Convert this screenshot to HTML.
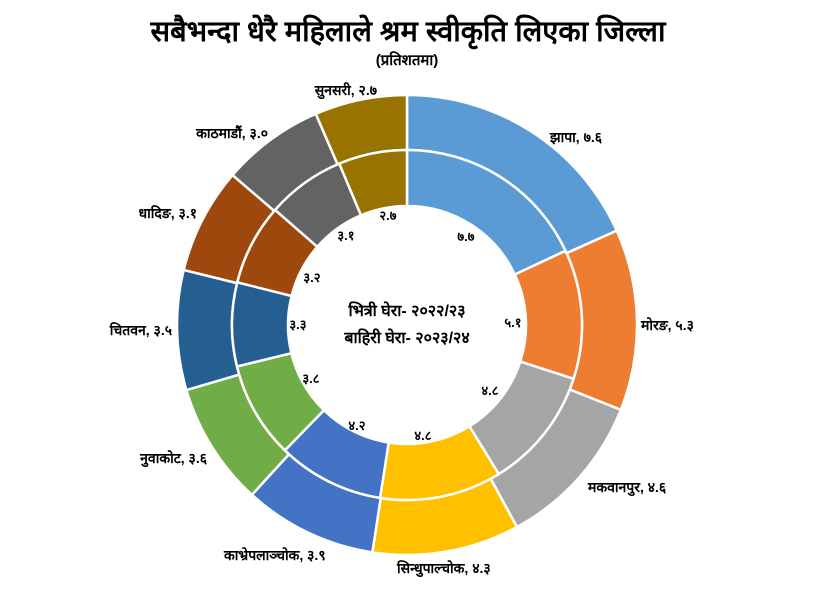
<!DOCTYPE html>
<html><head><meta charset="utf-8">
<style>
html,body{margin:0;padding:0;background:#fff;}
svg{display:block;font-family:"Liberation Sans","Noto Sans CJK SC",sans-serif;font-weight:bold;}
</style></head>
<body>
<svg id="c" width="815" height="612" viewBox="0 0 815 612" xmlns="http://www.w3.org/2000/svg">
<text x="408" y="41" text-anchor="middle" font-size="29" fill="#000">सबैभन्दा धेरै महिलाले श्रम स्वीकृति लिएका जिल्ला</text>
<text x="407" y="65" text-anchor="middle" font-size="15" fill="#000">(प्रतिशतमा)</text>
<g id="rings"></g>
<g font-size="14" fill="#000">
<text x="550" y="142">झापा, ७.६</text>
<text x="641" y="330">मोरङ, ५.३</text>
<text x="588" y="492">मकवानपुर, ४.६</text>
<text x="397" y="573">सिन्धुपाल्चोक, ४.३</text>
<text x="224" y="560">काभ्रेपलाञ्चोक, ३.९</text>
<text x="207" y="463" text-anchor="end">नुवाकोट, ३.६</text>
<text x="172" y="335" text-anchor="end">चितवन, ३.५</text>
<text x="197" y="218" text-anchor="end">धादिङ, ३.१</text>
<text x="268" y="138" text-anchor="end">काठमाडौं, ३.०</text>
<text x="377" y="95" text-anchor="end">सुनसरी, २.७</text>
</g>
<g font-size="13" fill="#000" text-anchor="middle">
<text x="466" y="241">७.७</text>
<text x="513" y="327">५.१</text>
<text x="490" y="395">४.८</text>
<text x="423" y="440">४.८</text>
<text x="357" y="430">४.२</text>
<text x="311" y="383">३.८</text>
<text x="298" y="329">३.३</text>
<text x="312" y="282">३.२</text>
<text x="346" y="240">३.१</text>
<text x="388" y="220">२.७</text>
</g>
<g font-size="16" fill="#000" text-anchor="middle">
<text x="407" y="316">भित्री घेरा- २०२२/२३</text>
<text x="407" y="343">बाहिरी घेरा- २०२३/२४</text>
</g>
</svg>
<script>
(function(){
var cx=407,cy=325;
var cols=["#5B9BD5","#ED7D31","#A5A5A5","#FFC000","#4472C4","#70AD47","#255E91","#9E480E","#636363","#997300"];
var outer=[7.6,5.3,4.6,4.3,3.9,3.6,3.5,3.1,3.0,2.7];
var inner=[7.7,5.1,4.8,4.8,4.2,3.8,3.3,3.2,3.1,2.7];
var g=document.getElementById("rings");
function pt(r,a){return [cx+r*Math.sin(a),cy-r*Math.cos(a)];}
function ring(data,r0,r1){
 var s=data.reduce(function(a,b){return a+b;},0),a=0,h="";
 data.forEach(function(v,i){
  var b=a+v/s*2*Math.PI,l=(b-a)>Math.PI?1:0;
  var p1=pt(r1,a),p2=pt(r1,b),p3=pt(r0,b),p4=pt(r0,a);
  h+='<path d="M'+p1+' A'+r1+','+r1+' 0 '+l+' 1 '+p2+' L'+p3+' A'+r0+','+r0+' 0 '+l+' 0 '+p4+' Z" fill="'+cols[i]+'" stroke="#fff" stroke-width="2.5"/>';
  a=b;
 });
 return h;
}
g.innerHTML=ring(outer,175,230)+ring(inner,119,175);
})();
</script>
</body></html>
